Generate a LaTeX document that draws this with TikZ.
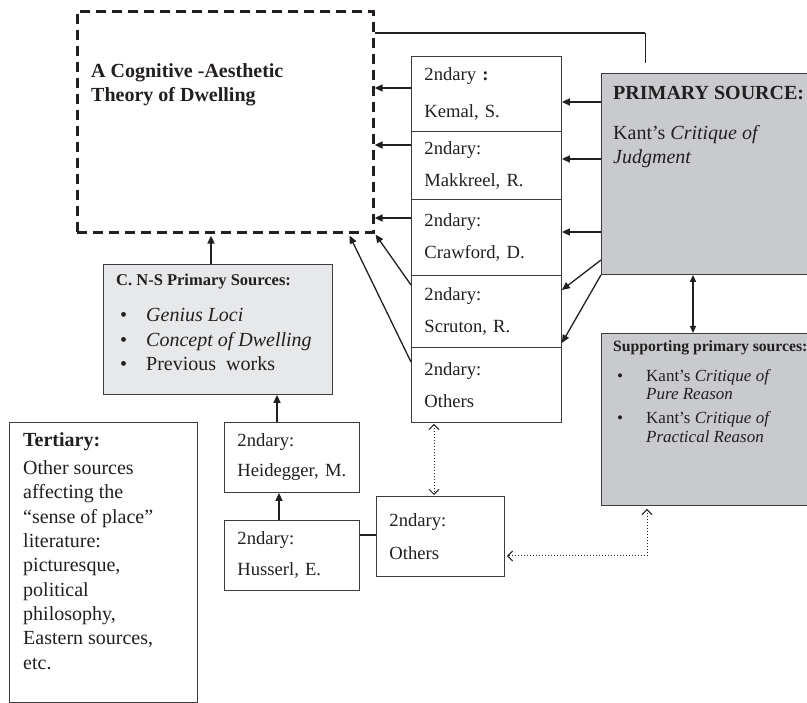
\documentclass[tikz,border=0pt]{standalone}
\usepackage{fontspec}
\setmainfont{Liberation Serif}
\usepackage{tikz}
\usetikzlibrary{arrows.meta}
\definecolor{ink}{RGB}{35,31,32}
\definecolor{rulegray}{RGB}{60,60,62}
\definecolor{primgray}{RGB}{201,202,205}
\definecolor{cnsgray}{RGB}{231,232,234}

\begin{document}
\begin{tikzpicture}[x=1pt,y=-1pt,
  box/.style={draw=rulegray,line width=0.9pt,anchor=north west,inner sep=0pt},
  src/.style={box,minimum width=150pt,text width=124pt,inner xsep=13pt,align=left,text=ink,font=\fontsize{18.6}{32}\selectfont},
  dashbox/.style={draw=ink,line width=2.6pt,dash pattern=on 10pt off 6pt,anchor=north west,inner sep=0pt},
  lbl/.style={anchor=base west,align=left,inner sep=0pt,text=ink},
  arr/.style={draw=ink,line width=1.6pt,-{Triangle[length=8pt,width=7pt]}},
  twoway/.style={draw=ink,line width=1.2pt,{Triangle[length=7pt,width=6pt]}-{Triangle[length=7pt,width=6pt]}},
  dots/.style={draw=ink,line width=1pt,dotted,{Straight Barb[length=5pt,width=10pt]}-{Straight Barb[length=5pt,width=10pt]}}]
\useasboundingbox (0,0) rectangle (807,703);
\clip (0,0) rectangle (807,703);
\fill[white] (0,0) rectangle (807,703);
\newcommand{\bul}{\hspace*{4pt}\makebox[26pt][l]{\textbullet}}

\node[dashbox,minimum width=296pt,minimum height=221pt] (theory) at (76,10) {};
\node[lbl,font=\fontsize{20}{24}\selectfont\bfseries] (theorytxt) at (91,102) {A Cognitive -Aesthetic\\Theory of Dwelling};

\node[src,minimum height=75pt,font=\fontsize{18.6}{37}\selectfont] (kemal) at (411,56) {2ndary \textbf{:}\\Kemal, S.};
\node[src,minimum height=68pt] (makkreel) at (411,131) {2ndary:\\Makkreel, R.};
\node[src,minimum height=76pt] (crawford) at (411,199) {2ndary:\\Crawford, D.};
\node[src,minimum height=72pt] (scruton) at (411,275) {2ndary:\\Scruton, R.};
\node[src,minimum height=75pt] (others) at (411,347) {2ndary:\\Others};

\node[box,fill=primgray,minimum width=230pt,minimum height=201pt] (prim) at (601,73) {};
\node[lbl,font=\fontsize{20}{24}\selectfont] (primtxt) at (613,164) {\textbf{PRIMARY SOURCE:}\\[16pt]Kant's \textit{Critique of}\\\textit{Judgment}};

\node[box,fill=primgray,minimum width=230pt,minimum height=172pt] (support) at (601,333) {};
\node[lbl,font=\fontsize{15.7}{19}\selectfont\bfseries] (supporthead) at (613,352) {Supporting primary sources:};
\node[lbl,font=\fontsize{17}{19}\selectfont] (supportlist) at (617,443) {\makebox[29pt][l]{\textbullet}Kant's \textit{Critique of}\\\hspace*{29pt}\textit{Pure Reason}\\[5pt]\makebox[29pt][l]{\textbullet}Kant's \textit{Critique of}\\\hspace*{29pt}\textit{Practical Reason}};

\node[box,fill=cnsgray,minimum width=229pt,minimum height=130pt] (cns) at (103,264) {};
\node[lbl,font=\fontsize{16.5}{20}\selectfont\bfseries] (cnshead) at (116,286) {C. N-S Primary Sources:};
\node[lbl,font=\fontsize{20}{24.5}\selectfont] (cnslist) at (116,371) {\bul\textit{Genius Loci}\\\bul\textit{Concept of Dwelling}\\\bul Previous\ \ works};

\node[src,minimum width=135pt,text width=109pt,minimum height=70pt,font=\fontsize{18.6}{30}\selectfont] (heidegger) at (224,422) {2ndary:\\Heidegger, M.};
\node[src,minimum width=135pt,text width=109pt,minimum height=70pt,font=\fontsize{18.6}{31}\selectfont] (husserl) at (224,520) {2ndary:\\Husserl, E.};
\node[src,minimum width=128pt,text width=102pt,minimum height=80pt,font=\fontsize{18.6}{33}\selectfont] (othersb) at (376,496) {2ndary:\\Others};

\node[box,minimum width=188pt,minimum height=280pt] (tertiary) at (9,422) {};
\node[lbl,font=\fontsize{20}{24.3}\selectfont] (tertiarytxt) at (23,669) {\textbf{Tertiary:}\\[3.7pt]Other sources\\affecting the\\``sense of place''\\literature:\\picturesque,\\political\\philosophy,\\Eastern sources,\\etc.};

\coordinate (bend) at (645,33);
\coordinate (stub) at (645,63);
\draw[draw=ink,line width=1.8pt] ([yshift=-23pt]theory.north east) -- (bend);
\draw[draw=ink,line width=0.8pt] (bend) -- (stub);

\draw[arr] (kemal.west |- 0,88) -- (theory.east |- 0,88);
\draw[arr] (makkreel.west |- 0,145) -- (theory.east |- 0,145);
\draw[arr] (crawford.west |- 0,218) -- (theory.east |- 0,218);
\draw[arr,line width=1.3pt] ([yshift=-10pt]scruton.north west) -- ([xshift=1pt,yshift=-1pt]theory.south east);
\draw[arr,line width=1.3pt] ([yshift=-15pt]others.north west) -- ([xshift=-25pt,yshift=-2pt]theory.south east);

\draw[arr] (prim.west |- 0,102) -- (kemal.east |- 0,102);
\draw[arr] (prim.west |- 0,159) -- (makkreel.east |- 0,159);
\draw[arr] (prim.west |- 0,232) -- (crawford.east |- 0,232);
\draw[arr,line width=1.3pt] (prim.west |- 0,260) -- (scruton.east |- 0,290);
\draw[arr,line width=1.3pt] (prim.south west) -- ([yshift=5pt]scruton.south east);
\draw[twoway] (prim.south -| 693,0) -- (support.north -| 693,0);

\draw[arr] (cns.north -| 211,0) -- ([yshift=-2pt]theory.south -| 211,0);
\draw[arr] (heidegger.north -| 277,0) -- (cns.south -| 277,0);
\draw[arr] (husserl.north -| 279,0) -- (heidegger.south -| 279,0);
\draw[draw=ink,line width=1.6pt] (husserl.east |- 0,535) -- (othersb.west |- 0,535);

\draw[dots] ([yshift=-1pt]others.south -| 434,0) -- ([yshift=1pt]othersb.north -| 434,0);
\draw[dots] ([yshift=-3pt]support.south -| 647,0) |- ([xshift=2pt]othersb.east |- 0,556);
\end{tikzpicture}
\end{document}
